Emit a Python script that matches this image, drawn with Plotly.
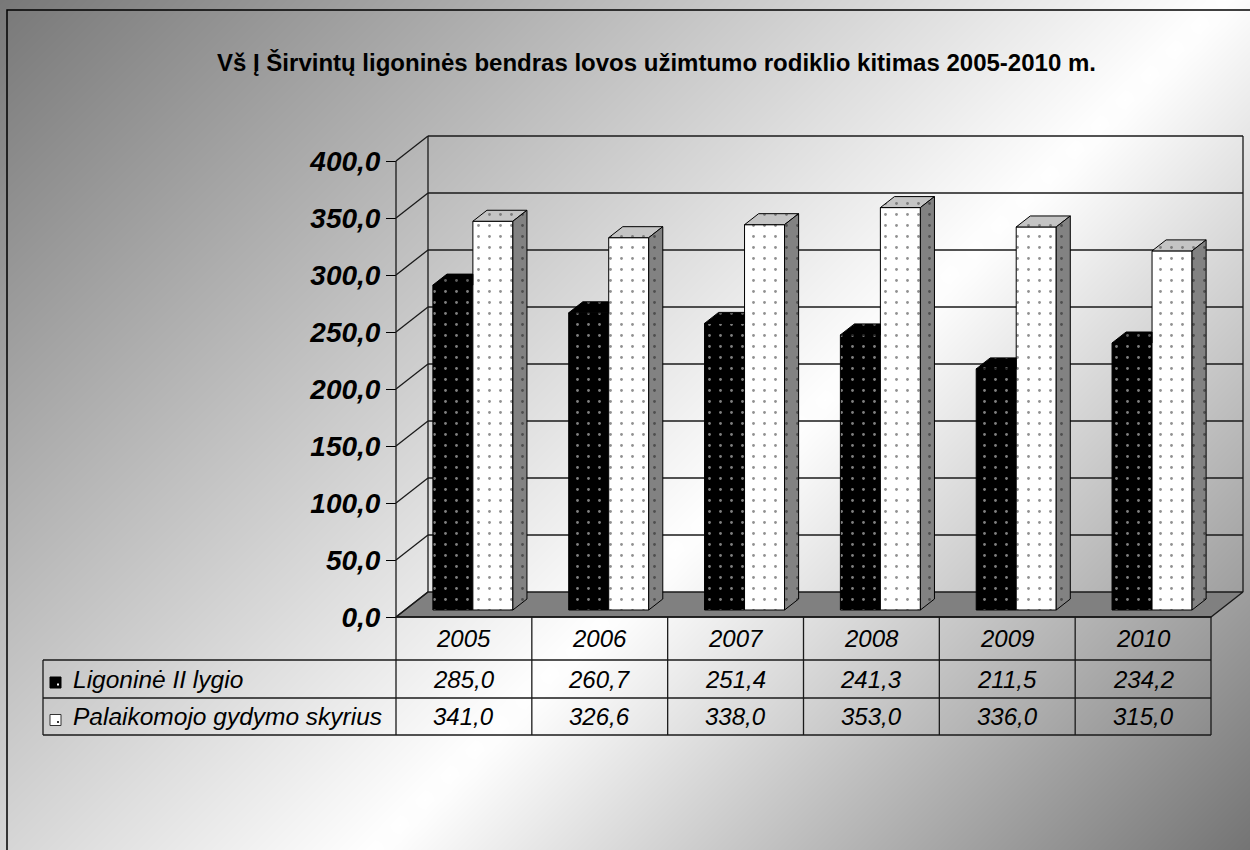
import plotly.graph_objects as go

# ---- data -------------------------------------------------------------
years = ["2005", "2006", "2007", "2008", "2009", "2010"]
ligonine = [285.0, 260.7, 251.4, 241.3, 211.5, 234.2]
palaikomojo = [341.0, 326.6, 338.0, 353.0, 336.0, 315.0]
series_names = ["Ligoninė II lygio", "Palaikomojo gydymo skyrius"]
value_ticks = [0, 50, 100, 150, 200, 250, 300, 350, 400]
title_text = "Vš Į Širvintų ligoninės bendras lovos užimtumo rodiklio kitimas 2005-2010 m."

# ---- page frame (pixels) ----------------------------------------------
W, H = 1250, 850
PX_LEFT, PX_RIGHT = 396, 1211      # front plane of the 3-D box
PY_ZERO = 617                      # value 0 on the front plane
PX_PER_VALUE = 1.14
n = len(years)
px_per_cat = (PX_RIGHT - PX_LEFT) / n

# one coordinate frame spanning the whole page
x_min = -0.5 - PX_LEFT / px_per_cat
x_max = -0.5 + (W - PX_LEFT) / px_per_cat
y_max = PY_ZERO / PX_PER_VALUE
y_min = (PY_ZERO - H) / PX_PER_VALUE


def xp(px):
    return -0.5 + (px - PX_LEFT) / px_per_cat


def yp(py):
    return (PY_ZERO - py) / PX_PER_VALUE


# depth of the box, bars sit in its middle
DEPTH_X = 32 / px_per_cat
DEPTH_Y = 25 / PX_PER_VALUE
FRONT_GAP = 0.28
BAR_DEPTH = 0.44
BAR_W = 40 / px_per_cat
sx, sy = FRONT_GAP * DEPTH_X, FRONT_GAP * DEPTH_Y
bdx, bdy = BAR_DEPTH * DEPTH_X, BAR_DEPTH * DEPTH_Y

FONT = "Liberation Sans, Arial, Helvetica, sans-serif"
LINE = "#1a1a1a"
DOT = 0.05

fig = go.Figure()

# ---- diagonal grey background -----------------------------------------
NGX, NGY = 50, 34
gx = [i * W / NGX for i in range(NGX + 1)]
gy = [H - j * H / NGY for j in range(NGY + 1)]


def shade(px, py):
    t = (px + py) / (W + H)
    if t < 0.585:
        return 120 + (255 - 120) * t / 0.585
    return 255 - (255 - 116) * (t - 0.585) / (1 - 0.585)


fig.add_trace(go.Heatmap(
    x=[xp(v) for v in gx], y=[yp(v) for v in gy],
    z=[[shade(px, py) for px in gx] for py in gy],
    zmin=0, zmax=255, zsmooth="best", showscale=False, hoverinfo="skip",
    colorscale=[[0, "rgb(0,0,0)"], [1, "rgb(255,255,255)"]],
))

# ---- walls and floor --------------------------------------------------
xL, xR = -0.5, n - 0.5
fig.add_trace(go.Scatter(
    x=[xL, xR, xR + DEPTH_X, xL + DEPTH_X, xL],
    y=[0, 0, DEPTH_Y, DEPTH_Y, 0],
    fill="toself", fillcolor="#808080", mode="lines",
    line=dict(color=LINE, width=1.3), hoverinfo="skip", showlegend=False,
))

wx, wy = [], []
top = max(value_ticks)
for v in value_ticks:
    # side wall
    wx += [xL, xL + DEPTH_X, None]
    wy += [v, v + DEPTH_Y, None]
    # back wall
    if v > 0:
        wx += [xL + DEPTH_X, xR + DEPTH_X, None]
        wy += [v + DEPTH_Y, v + DEPTH_Y, None]
for xx in (xL + DEPTH_X, xR + DEPTH_X):
    wx += [xx, xx, None]
    wy += [DEPTH_Y, top + DEPTH_Y, None]
fig.add_trace(go.Scatter(x=wx, y=wy, mode="lines",
                         line=dict(color=LINE, width=1.3),
                         hoverinfo="skip", showlegend=False))

# ---- bars (front faces) -----------------------------------------------
cats = list(range(n))
dark_pat = dict(shape=".", fgcolor="white", bgcolor="black", size=11, solidity=DOT)
light_pat = dict(shape=".", fgcolor="#222222", bgcolor="white", size=11, solidity=DOT)

fig.add_trace(go.Bar(
    x=cats, y=ligonine, base=sy, width=BAR_W, offset=sx - BAR_W,
    name=series_names[0], xaxis="x2", yaxis="y2",
    marker=dict(color="black", pattern=dark_pat, line=dict(color="black", width=1)),
))
fig.add_trace(go.Bar(
    x=cats, y=palaikomojo, base=sy, width=BAR_W, offset=sx,
    name=series_names[1], xaxis="x2", yaxis="y2",
    marker=dict(color="white", pattern=light_pat, line=dict(color="black", width=1)),
))

# ---- bars (top and side faces) ----------------------------------------
dark_top_x, dark_top_y = [], []
light_top_x, light_top_y = [], []
light_side_x, light_side_y = [], []
for i, (a, b) in enumerate(zip(ligonine, palaikomojo)):
    # dark bar: only the part of the top not hidden by the light bar
    x0, x1 = i + sx - BAR_W, i + sx
    t = sy + a
    dark_top_x += [x0, x0 + bdx, x1, x1, x0, None]
    dark_top_y += [t, t + bdy, t + bdy, t, t, None]
    # light bar
    x0, x1 = i + sx, i + sx + BAR_W
    t = sy + b
    light_top_x += [x0, x0 + bdx, x1 + bdx, x1, x0, None]
    light_top_y += [t, t + bdy, t + bdy, t, t, None]
    light_side_x += [x1, x1, x1 + bdx, x1 + bdx, x1, None]
    light_side_y += [sy, t, t + bdy, sy + bdy, sy, None]

face_line = dict(color="black", width=1)
fig.add_trace(go.Scatter(
    x=dark_top_x, y=dark_top_y, xaxis="x2", yaxis="y2", mode="lines",
    fill="toself", fillcolor="black", line=face_line,
    fillpattern=dict(shape=".", fgcolor="#bbbbbb", bgcolor="black", size=11, solidity=DOT),
    hoverinfo="skip", showlegend=False,
))
fig.add_trace(go.Scatter(
    x=light_top_x, y=light_top_y, xaxis="x2", yaxis="y2", mode="lines",
    fill="toself", fillcolor="#c4c4c4", line=face_line,
    fillpattern=dict(shape=".", fgcolor="#333333", bgcolor="#c4c4c4", size=11, solidity=DOT),
    hoverinfo="skip", showlegend=False,
))
fig.add_trace(go.Scatter(
    x=light_side_x, y=light_side_y, xaxis="x2", yaxis="y2", mode="lines",
    fill="toself", fillcolor="#828282", line=face_line,
    fillpattern=dict(shape=".", fgcolor="#1a1a1a", bgcolor="#828282", size=11, solidity=DOT),
    hoverinfo="skip", showlegend=False,
))

# ---- data table under the chart ---------------------------------------
ROW_Y = [617, 660, 698, 735]          # row borders (px)
LEG_LEFT = 43
shapes = []


def seg(x0, y0, x1, y1):
    shapes.append(dict(type="line", xref="x", yref="y", x0=x0, y0=y0, x1=x1, y1=y1,
                       line=dict(color=LINE, width=1.3), layer="above"))


seg(xL, 0, xR, 0)
for py in ROW_Y[1:]:
    seg(xp(LEG_LEFT), yp(py), xR, yp(py))
seg(xp(LEG_LEFT), yp(ROW_Y[1]), xp(LEG_LEFT), yp(ROW_Y[3]))
seg(xL, top, xL, yp(ROW_Y[3]))
for k in range(1, n + 1):
    seg(xL + k, 0, xL + k, yp(ROW_Y[3]))

# legend keys
for r, (fill, dot, edge) in enumerate([("black", "white", "black"), ("white", "#333333", "#333333")]):
    cy = (ROW_Y[r + 1] + ROW_Y[r + 2]) / 2 + 3.5
    shapes.append(dict(type="rect", xref="x", yref="y", x0=xp(50), x1=xp(61),
                       y0=yp(cy - 5.5), y1=yp(cy + 5.5), fillcolor=fill,
                       line=dict(color=edge, width=1), layer="above"))
    shapes.append(dict(type="rect", xref="x", yref="y", x0=xp(57), x1=xp(59),
                       y0=yp(cy + 1), y1=yp(cy + 3), fillcolor=dot,
                       line=dict(width=0), layer="above"))

# outer frame
shapes.append(dict(type="rect", xref="paper", yref="paper", x0=7 / W, x1=1.02,
                   y0=-0.02, y1=1 - 10 / H, line=dict(color="black", width=1.5),
                   fillcolor="rgba(0,0,0,0)", layer="above"))

annotations = []
cell_font = dict(family=FONT, size=24, color="black", style="italic")
legend_font = dict(family=FONT, size=24.5, color="black", style="italic")


def fmt(v):
    return f"{v:.1f}".replace(".", ",")


for i, yr in enumerate(years):
    annotations.append(dict(x=i, y=yp((ROW_Y[0] + ROW_Y[1]) / 2), xref="x", yref="y",
                            text=yr, showarrow=False, font=cell_font,
                            xanchor="center", yanchor="middle"))
for r, vals in enumerate([ligonine, palaikomojo]):
    cy = yp((ROW_Y[r + 1] + ROW_Y[r + 2]) / 2)
    for i, v in enumerate(vals):
        annotations.append(dict(x=i, y=cy, xref="x", yref="y", text=fmt(v),
                                showarrow=False, font=cell_font,
                                xanchor="center", yanchor="middle"))
    annotations.append(dict(x=xp(71), y=cy, xref="x", yref="y", text=series_names[r],
                            xanchor="left", yanchor="middle", showarrow=False,
                            font=legend_font))

annotations.append(dict(x=656 / W, y=1 - 62 / H, xref="paper", yref="paper",
                        text=title_text, showarrow=False,
                        xanchor="center", yanchor="middle",
                        font=dict(family=FONT, size=24, color="black", weight="bold")))

fig.update_layout(
    width=W, height=H, autosize=False,
    margin=dict(l=0, r=0, t=0, b=0, pad=0),
    paper_bgcolor="white", plot_bgcolor="rgba(0,0,0,0)",
    showlegend=False, barmode="overlay", separators=", ",
    xaxis=dict(range=[x_min, x_max], domain=[0, 1], visible=False, fixedrange=True),
    yaxis=dict(range=[y_min, y_max], domain=[0, 1], anchor="free",
               position=PX_LEFT / W, showgrid=False, zeroline=False, showline=False,
               tickmode="array", tickvals=value_ticks, tickformat=".1f",
               ticks="outside", ticklen=10, tickcolor="black", tickwidth=1,
               tickfont=dict(family=FONT, size=28, color="black",
                             weight="bold", style="italic"),
               fixedrange=True),
    xaxis2=dict(range=[x_min, x_max], overlaying="x", anchor="y2", visible=False,
                fixedrange=True),
    yaxis2=dict(range=[y_min, y_max], overlaying="y", anchor="x2", visible=False,
                fixedrange=True),
    shapes=shapes, annotations=annotations,
)

fig.write_html("out.html", config={"displayModeBar": False})
